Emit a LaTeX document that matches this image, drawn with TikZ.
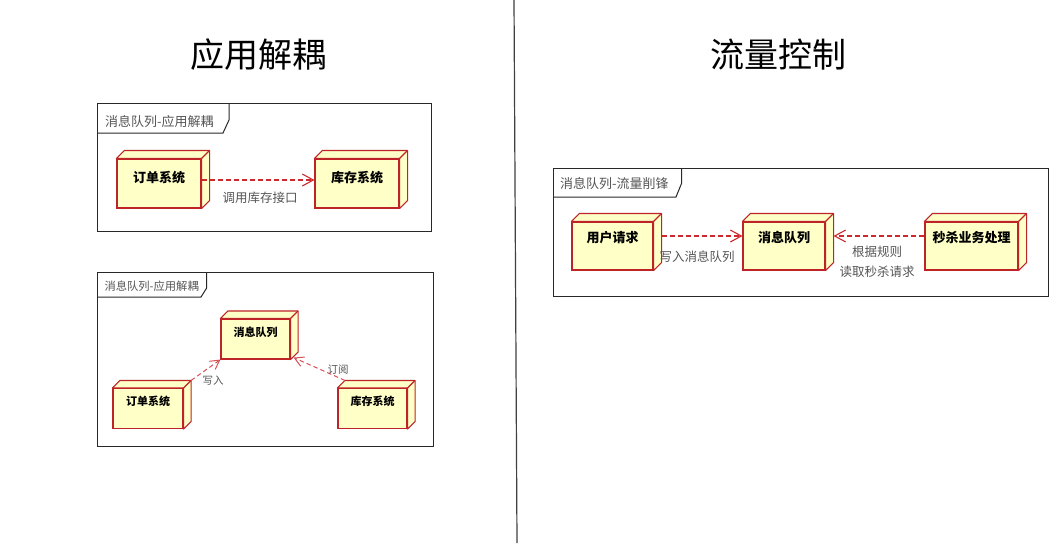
\documentclass[tikz,border=0pt]{standalone}
\usepackage{fontspec}
\setmainfont{Noto Sans CJK SC}
\usetikzlibrary{arrows.meta}
\definecolor{nodefill}{RGB}{255,255,200}
\definecolor{nodeborder}{RGB}{190,35,40}
\definecolor{arrowred}{RGB}{205,40,45}
\definecolor{labelgray}{RGB}{85,85,85}
\definecolor{framegray}{RGB}{40,40,40}
\newcommand\mycube[7]{%
  \node[cubefront,#6,minimum width=#3,minimum height=#4] (#1) at (#2) {#7};
  \draw[cubeside] (#1.north west) -- ++(#5,-#5) -- ([shift={(#5,-#5)}]#1.north east)
     -- ([shift={(#5,-#5)}]#1.south east) -- (#1.south east) -- (#1.north east) -- cycle;
  \draw[cubeside] (#1.north east) -- ++(#5,-#5);
}
\begin{document}
\begin{tikzpicture}[x=1pt,y=-1pt,
  cubefront/.style={draw=nodeborder, fill=nodefill, line width=1.1pt, inner sep=0pt, text=black},
  cubeside/.style={draw=nodeborder, fill=nodefill, line width=1.1pt, line join=round},
  bigtxt/.style={font=\bfseries\fontsize{13}{15}\selectfont, text height=11pt, text depth=14pt},
  smalltxt/.style={font=\bfseries\fontsize{11}{13}\selectfont, text height=9pt, text depth=14.6pt},
  righttxt/.style={font=\bfseries\fontsize{13}{15}\selectfont, text height=11pt, text depth=17.8pt},
  frame/.style={draw=framegray, line width=1pt},
  framelabel/.style={anchor=west, text=labelgray, inner sep=0pt, font=\fontsize{13}{15}\selectfont},
  dep/.style={draw=arrowred, line width=1.1pt, dash pattern=on 5pt off 3pt,
    -{Straight Barb[length=11pt,width=12pt,line width=1.1pt]}},
  depsmall/.style={draw=arrowred!80, line width=1pt, dash pattern=on 4.5pt off 3pt,
    -{Straight Barb[length=9pt,width=10pt,line width=1pt]}},
  elabel/.style={text=labelgray, inner sep=0pt, font=\fontsize{12.5}{19.5}\selectfont, align=center},
  title/.style={inner sep=0pt, font=\fontsize{34}{40}\selectfont}
]
\useasboundingbox[fill=white] (0,0) rectangle (1064,543);

% divider
\draw[draw=black!75, line width=1.2pt] (514,0) -- (517,543);

% titles
\node[title] (t1) at (258.7,55) {应用解耦};
\node[title] (t2) at (778.7,55) {流量控制};

% ---------- frame 1 ----------
\draw[frame] (97,103) rectangle (431,231);
\draw[frame] (97,133) -- (223,133) -- (229,120) -- (229,103);
\node[framelabel] (f1) at (105,121.5) {消息队列-应用解耦};
\mycube{o1}{159,183.5}{84pt}{49pt}{8}{bigtxt}{订单系统}
\mycube{s1}{357,183.5}{84pt}{49pt}{8}{bigtxt}{库存系统}
\draw[dep] ([yshift=3.5pt]o1.east) -- ([yshift=3.5pt]s1.west);
\node[elabel] (l1) at (260,198) {调用库存接口};

% ---------- frame 2 ----------
\draw[frame] (97,272) rectangle (433,446);
\draw[frame] (97,297) -- (201,297) -- (206.7,288) -- (206.7,272);
\node[framelabel, font=\fontsize{11.3}{13}\selectfont] (f2) at (104.3,286) {消息队列-应用解耦};
\mycube{q2}{255.5,339}{69pt}{40pt}{7.5}{smalltxt}{消息队列}
\mycube{o2}{148,408.5}{70pt}{40pt}{7.5}{smalltxt}{订单系统}
\mycube{s2}{372.5,408.5}{69pt}{40pt}{7.5}{smalltxt}{库存系统}
\draw[depsmall] ([shift={(7.5,-7.5)}]o2.north east) -- (q2.south west);
\draw[depsmall] ([shift={(7.5,-7.5)}]s2.north west) -- ([xshift=3pt,yshift=2pt]q2.south east);
\node[elabel, font=\fontsize{10.5}{12}\selectfont] (l2) at (213,381) {写入};
\node[elabel, font=\fontsize{10.5}{12}\selectfont] (l3) at (338,369.5) {订阅};

% ---------- frame 3 ----------
\draw[frame] (553,168) rectangle (1048,296);
\draw[frame] (553,197) -- (676,197) -- (681.7,183) -- (681.7,168);
\node[framelabel] (f3) at (560,183.3) {消息队列-流量削锋};
\mycube{u3}{612.5,246}{81pt}{48pt}{8}{righttxt}{用户请求}
\mycube{q3}{784,246}{82pt}{48pt}{8}{righttxt}{消息队列}
\mycube{k3}{971.5,246}{93pt}{48pt}{8}{righttxt}{秒杀业务处理}
\draw[dep] ([xshift=8pt,yshift=10pt]u3.east) -- ([yshift=10pt]q3.west);
\draw[dep] ([yshift=10pt]k3.west) -- ([xshift=8pt,yshift=10pt]q3.east);
\node[elabel] (l4) at (697,257) {写入消息队列};
\node[elabel] (l5) at (877,262) {根据规则\\读取秒杀请求};
\end{tikzpicture}
\end{document}
